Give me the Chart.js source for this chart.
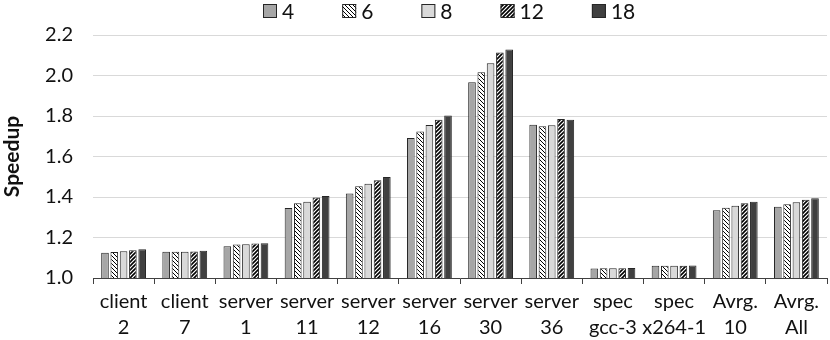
<!DOCTYPE html>
<html>
<head>
<meta charset="utf-8">
<script src="https://cdn.jsdelivr.net/npm/chart.js@4.4.1/dist/chart.umd.min.js"></script>
<style>
  body { margin: 0; background: #fff; }
  #wrap { width: 830px; height: 340px; position: relative; }
</style>
</head>
<body>
<div id="wrap"><canvas id="grafico"></canvas></div>
<script>
// ===== dados =====
const categorias = [
    ["client", "2"], ["client", "7"], ["server", "1"], ["server", "11"],
    ["server", "12"], ["server", "16"], ["server", "30"], ["server", "36"],
    ["spec", "gcc-3"], ["spec", "x264-1"], ["Avrg.", "10"], ["Avrg.", "All"]
];
const series = ["4", "6", "8", "12", "18"];
const speedup4  = [1.125, 1.130, 1.157, 1.346, 1.417, 1.691, 1.967, 1.757, 1.047, 1.060, 1.335, 1.352];
const speedup6  = [1.129, 1.130, 1.165, 1.369, 1.453, 1.723, 2.016, 1.749, 1.048, 1.061, 1.347, 1.364];
const speedup8  = [1.132, 1.130, 1.167, 1.377, 1.466, 1.756, 2.061, 1.754, 1.048, 1.061, 1.357, 1.374];
const speedup12 = [1.137, 1.131, 1.170, 1.398, 1.483, 1.782, 2.114, 1.785, 1.048, 1.061, 1.369, 1.387];
const speedup18 = [1.142, 1.135, 1.172, 1.405, 1.499, 1.803, 2.129, 1.782, 1.050, 1.062, 1.377, 1.394];
const yTicks = [1.0, 1.2, 1.4, 1.6, 1.8, 2.0, 2.2];

// hachuras para as séries 6 e 12
function criarHachura(sentido, espessura) {
    const c = document.createElement("canvas");
    c.width = 4; c.height = 4;
    const g = c.getContext("2d");
    g.fillStyle = "#fff";
    g.fillRect(0, 0, 4, 4);
    g.strokeStyle = "#000";
    g.lineWidth = espessura;
    g.beginPath();
    if (sentido === "/") {
        g.moveTo(-1, 5); g.lineTo(5, -1);
        g.moveTo(-1, 1); g.lineTo(1, -1);
        g.moveTo(3, 5); g.lineTo(5, 3);
    } else {
        g.moveTo(-1, -1); g.lineTo(5, 5);
        g.moveTo(-1, 3); g.lineTo(1, 5);
        g.moveTo(3, -1); g.lineTo(5, 1);
    }
    g.stroke();
    return g.createPattern(c, "repeat");
}

const preenchimentos = ["#a6a6a6", criarHachura("\\", 1), "#d9d9d9", criarHachura("/", 1.6), "#404040"];
const valores = [speedup4, speedup6, speedup8, speedup12, speedup18];

const FONTE = "Lato, 'Open Sans', sans-serif";
Chart.defaults.font.family = FONTE;
Chart.defaults.color = "#111";

// legenda desenhada à mão (espaçamento horizontal largo, altura pequena)
const legendaTopo = {
    id: "legendaTopo",
    afterDraw(chart) {
        const g = chart.ctx;
        g.save();
        g.font = "21px " + FONTE;
        g.textBaseline = "middle";
        g.textAlign = "left";
        let x = 263;
        const y = 4, lado = 14;
        chart.data.datasets.forEach(ds => {
            g.fillStyle = ds.backgroundColor;
            g.fillRect(x, y, lado, lado);
            g.strokeStyle = "#262626";
            g.lineWidth = 1;
            g.strokeRect(x + 0.5, y + 0.5, lado - 1, lado - 1);
            g.fillStyle = "#111";
            g.fillText(ds.label, x + lado + 5, y + lado / 2 + 1);
            x += lado + 5 + g.measureText(ds.label).width + 48;
        });
        g.restore();
    }
};

const ctx = document.getElementById("grafico").getContext("2d");
window.chartSpeedup = new Chart(ctx, {
    type: "bar",
    data: {
        labels: categorias,
        datasets: series.map((s, i) => ({
            label: s,
            data: valores[i],
            backgroundColor: preenchimentos[i],
            borderColor: "#262626",
            borderWidth: 1,
            categoryPercentage: 0.76,
            barPercentage: 0.82
        }))
    },
    options: {
        responsive: true,
        maintainAspectRatio: false,
        animation: false,
        layout: { padding: { top: 35, right: 3, left: 0, bottom: 0 } },
        plugins: {
            legend: { display: false },
            tooltip: { enabled: false }
        },
        scales: {
            x: {
                grid: {
                    display: true,
                    drawOnChartArea: false,
                    offset: true,
                    tickLength: 6,
                    color: "#404040"
                },
                border: { display: true, color: "#404040", width: 1 },
                ticks: {
                    maxRotation: 0,
                    autoSkip: false,
                    padding: 5,
                    font: { size: 20, lineHeight: 1.3 }
                },
                afterFit: function(scale) { scale.height = 62; }
            },
            y: {
                min: 1.0,
                max: 2.2,
                grid: { color: "#d9d9d9", lineWidth: 1, drawTicks: false },
                border: { display: false },
                afterBuildTicks: function(scale) {
                    scale.ticks = yTicks.map(v => ({ value: v }));
                },
                ticks: {
                    padding: 20,
                    font: { size: 20 },
                    callback: function(value) { return value.toFixed(1); }
                },
                title: {
                    display: true,
                    text: "Speedup",
                    font: { size: 21, weight: "bold" },
                    padding: { top: 0, bottom: 0 }
                },
                afterFit: function(scale) { scale.width = 93; }
            }
        }
    },
    plugins: [legendaTopo]
});
</script>
</body>
</html>
